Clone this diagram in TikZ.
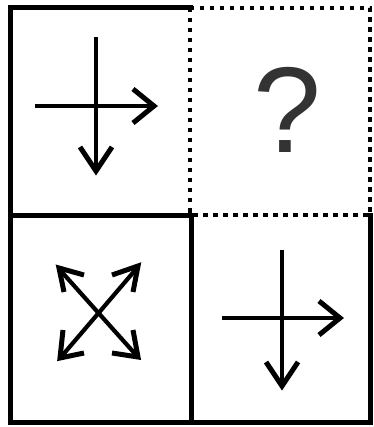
\documentclass[tikz,border=0pt]{standalone}
\usepackage{fontspec}
\newfontfamily\qfont{Liberation Sans}

\begin{document}
\begin{tikzpicture}[
  x=1pt, y=-1pt,
  edge/.style={line width=5pt, line cap=rect},
  dotedge/.style={line width=4.5pt, dash pattern=on 4.5pt off 5.5pt},
  shaft/.style={line width=4.2pt},
  barb/.style={line width=5pt, line join=miter}
]
\useasboundingbox (0,0) rectangle (373,427);

% --- grid ---
\draw[dotedge] (190,8) rectangle (370,215);
\draw[edge] (190,8) -- (10,8) -- (10,422) -- (370,422) -- (370,215);
\draw[edge] (10,215) -- (190,215);
\draw[edge] (191,215) -- (191,422);

% --- top left: right and down ---
\draw[shaft] (35,106) -- (153,106);
\draw[barb] (133,89) -- (154,106) -- (133,123);
\draw[shaft] (96,37) -- (96,171);
\draw[barb] (80,147) -- (96,171) -- (112,147);

% --- top right: unknown ---
\node[font=\qfont\fontsize{122}{122}\selectfont, text=black!80, inner sep=0pt] (qmark) at (287,110) {?};

% --- bottom left: outward diagonals ---
\draw[shaft] (60,270) -- (137,356);
\draw[shaft] (137,268) -- (61,357);
\draw[barb] (84,275) -- (59,268) -- (64,292);
\draw[barb] (112,275) -- (138,266) -- (133,292);
\draw[barb] (63,330) -- (60,358) -- (84,353);
\draw[barb] (133,330) -- (138,357) -- (112,353);

% --- bottom right: right and down ---
\draw[shaft] (222,318) -- (339,318);
\draw[barb] (319,301) -- (340,318) -- (319,335);
\draw[shaft] (282,250) -- (282,386);
\draw[barb] (266,362) -- (282,386) -- (298,362);
\end{tikzpicture}
\end{document}
